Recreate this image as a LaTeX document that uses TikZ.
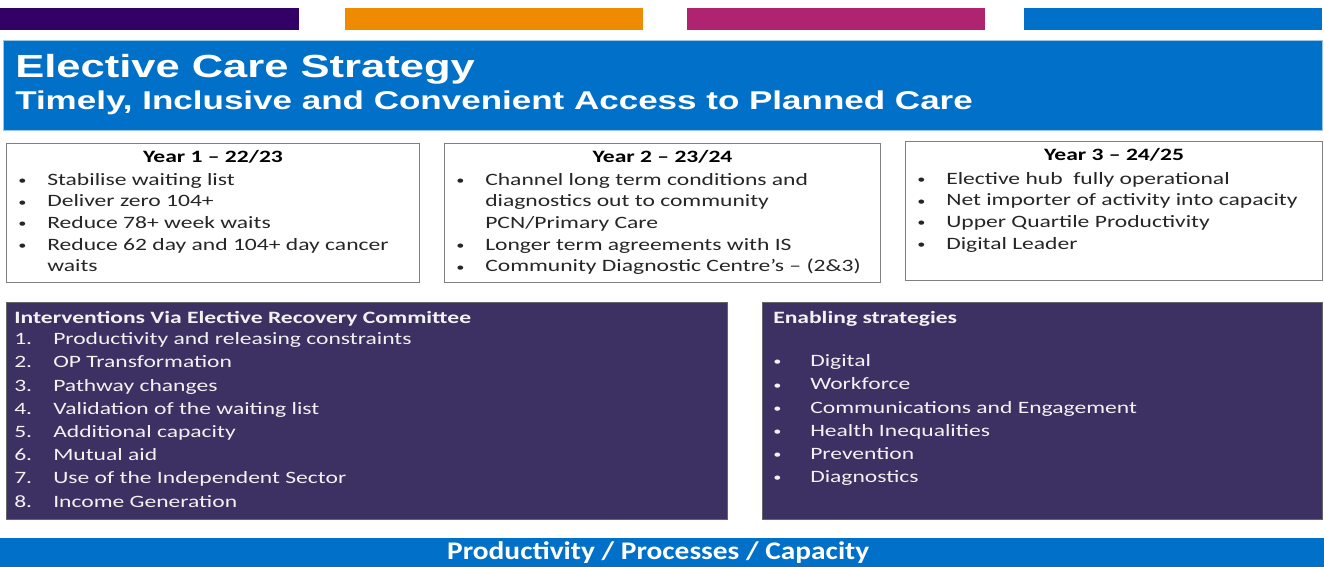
\documentclass[tikz,border=0pt]{standalone}
\usepackage{fontspec}
\setmainfont{Carlito}[FakeStretch=1.36]
\newfontfamily\headfont{Liberation Sans}[FakeStretch=1.36]
\newfontfamily\barfont{Carlito}[FakeStretch=1.16]
\usetikzlibrary{positioning, calc}
\definecolor{nhsblue}{HTML}{0070C8}
\definecolor{deeppurple}{HTML}{330066}
\definecolor{amber}{HTML}{EE8B00}
\definecolor{berry}{HTML}{AE2471}
\definecolor{panelpurple}{HTML}{3D3062}
\definecolor{boxgrey}{HTML}{808080}
\definecolor{lighttext}{HTML}{F2F2F2}
\newcommand{\smalldot}{\raisebox{0.5pt}{\fontsize{9}{9}\selectfont\textbullet}}
\newcommand{\bul}[1]{\makebox[21.75pt][l]{\smalldot}#1}
\newcommand{\num}[2]{\makebox[29.25pt][l]{#1.}#2}
\newcommand{\ebul}[1]{\makebox[27.75pt][l]{\smalldot}#1}

\begin{document}
\begin{tikzpicture}[x=0.75pt, y=-0.75pt,
  bar/.style={rectangle, anchor=north west, inner sep=0, minimum height=22*0.75pt},
  titlebox/.style={rectangle, anchor=north west, fill=nhsblue, draw=nhsblue!40, line width=0.75pt, inner sep=0},
  yearbox/.style={rectangle, anchor=north west, draw=boxgrey, fill=white, line width=0.75pt, inner sep=0, minimum height=139*0.75pt},
  yearhead/.style={font=\fontsize{13}{16.2}\selectfont\bfseries, inner sep=0},
  yearlist/.style={anchor=north west, align=left, inner sep=0, font=\fontsize{13}{16.2}\selectfont, text=black!85},
  panel/.style={rectangle, anchor=north west, fill=panelpurple, draw=black!60, line width=0.5pt, inner sep=0, minimum height=217*0.75pt},
  panellist/.style={anchor=north west, align=left, inner sep=0, font=\fontsize{13}{17.4}\selectfont, text=lighttext}
]
\useasboundingbox (0,0) rectangle (1324,567);
% colour bars along the top
\node[bar, fill=deeppurple, minimum width=299*0.75pt] (bar1) at (0,8) {};
\node[bar, fill=amber, minimum width=298*0.75pt] (bar2) at (345,8) {};
\node[bar, fill=berry, minimum width=298*0.75pt] (bar3) at (687,8) {};
\node[bar, fill=nhsblue, minimum width=298*0.75pt] (bar4) at (1024,8) {};
% title banner
\node[titlebox, minimum width=1319*0.75pt, minimum height=90*0.75pt] (banner) at (3,40) {};
\node[anchor=base west, inner sep=0, text=white, font=\headfont\fontsize{24}{28}\selectfont\bfseries] (title) at ($(banner.north west)+(12,38)$) {Elective Care Strategy};
\node[anchor=base west, inner sep=0, text=white, font=\headfont\fontsize{19.3}{22}\selectfont\bfseries] (subtitle) at ($(banner.north west)+(12,69)$) {Timely, Inclusive and Convenient Access to Planned Care};
% year boxes
\node[yearbox, minimum width=413*0.75pt] (y1) at (6,143) {};
\node[yearbox, minimum width=436*0.75pt] (y2) at (444,143) {};
\node[yearbox, minimum width=417*0.75pt] (y3) at (905,141) {};
\node[yearhead] (y1head) at ($(y1.north)+(0,14)$) {Year 1 – 22/23};
\node[yearhead] (y2head) at ($(y2.north)+(0,14)$) {Year 2 – 23/24};
\node[yearhead] (y3head) at ($(y3.north)+(0,14)$) {Year 3 – 24/25};
\node[yearlist] (y1list) at ($(y1.north west)+(12,30)$) {\bul{Stabilise waiting list}\\ \bul{Deliver zero 104+}\\ \bul{Reduce 78+ week waits}\\ \bul{Reduce 62 day and 104+ day cancer}\\ \hspace*{21.75pt}waits};
\node[yearlist] (y2list) at ($(y2.north west)+(12,30)$) {\bul{Channel long term conditions and}\\ \hspace*{21.75pt}diagnostics out to community\\ \hspace*{21.75pt}PCN/Primary Care\\ \bul{Longer term agreements with IS}\\ \bul{Community Diagnostic Centre’s – (2\&3)}};
\node[yearlist] (y3list) at ($(y3.north west)+(12,31)$) {\bul{Elective hub\ \ fully operational}\\ \bul{Net importer of activity into capacity}\\ \bul{Upper Quartile Productivity}\\ \bul{Digital Leader}};
% purple panels
\node[panel, minimum width=721*0.75pt] (erc) at (6,302) {};
\node[panel, minimum width=560*0.75pt] (enable) at (762,302) {};
\node[panellist] (erclist) at ($(erc.north west)+(8,9)$) {\textbf{Interventions Via Elective Recovery Committee}\\[-1.5pt]
  \num{1}{Productivity and releasing constraints}\\ \num{2}{OP Transformation}\\ \num{3}{Pathway changes}\\
  \num{4}{Validation of the waiting list}\\ \num{5}{Additional capacity}\\ \num{6}{Mutual aid}\\
  \num{7}{Use of the Independent Sector}\\ \num{8}{Income Generation}};
\node[panellist] (enablelist) at ($(enable.north west)+(11,9)$) {\textbf{Enabling strategies}\\[15pt]
  \ebul{Digital}\\ \ebul{Workforce}\\ \ebul{Communications and Engagement}\\
  \ebul{Health Inequalities}\\ \ebul{Prevention}\\ \ebul{Diagnostics}};
% footer band
\node[rectangle, anchor=north west, fill=nhsblue, inner sep=0, minimum width=1324*0.75pt, minimum height=29*0.75pt] (footer) at (0,538) {};
\node[inner sep=0, text=white, font=\barfont\fontsize{19}{22}\selectfont\bfseries] (footertext) at ($(footer.center)+(-4,0)$) {Productivity / Processes / Capacity};
\end{tikzpicture}
\end{document}
